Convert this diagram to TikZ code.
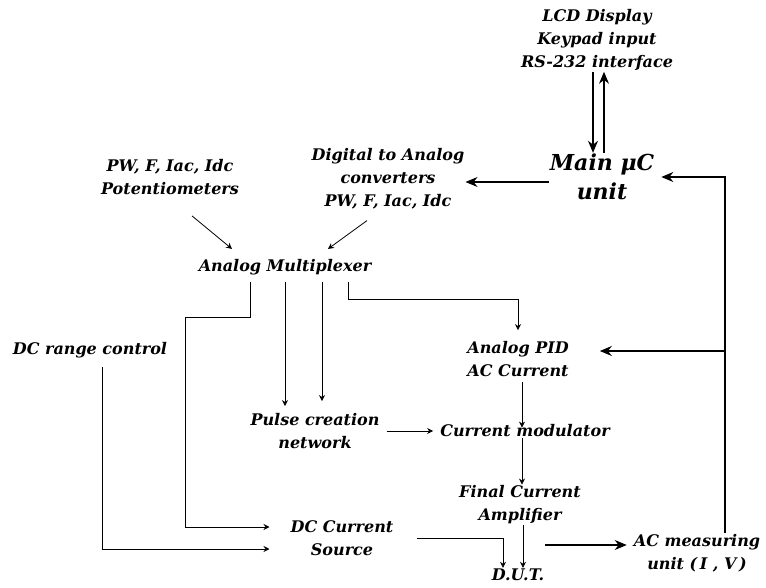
\documentclass[tikz,border=0pt]{standalone}
\usepackage{fontspec}
\setmainfont{DejaVu Serif}
\usepackage{xcolor}
\usepackage{tikz}
\usetikzlibrary{arrows.meta}

\tikzset{
  lbl/.style={font=\bfseries\itshape\fontsize{16}{23}\selectfont,align=center,inner sep=1pt},
  bigarr/.style={line width=1.1pt,-{Stealth[length=12pt,width=10pt]}},
  smallarr/.style={line width=0.8pt,-{Stealth[length=6pt,width=6pt]}}
}

\begin{document}
\begin{tikzpicture}[x=1pt,y=1pt]
    \useasboundingbox (0,0) rectangle (766,587);

    \node[lbl] (lcd) at (597,547) {LCD Display\\Keypad input\\RS-232 interface};
    \node[lbl,font=\bfseries\itshape\fontsize{22}{29}\selectfont] (main) at (602,410) {Main μC\\unit};
    \node[lbl] (pot) at (170,410) {PW, F, Iac, Idc\\Potentiometers};
    \node[lbl] (dac) at (388,408) {Digital to Analog\\converters\\PW, F, Iac, Idc};
    \node[lbl] (mux) at (285,320) {Analog Multiplexer};
    \node[lbl] (dcr) at (90,237) {DC range control};
    \node[lbl] (pid) at (518,228) {Analog PID\\AC Current};
    \node[lbl] (pulse) at (315,156) {Pulse creation\\network};
    \node[lbl] (mod) at (525,156) {Current modulator};
    \node[lbl] (amp) at (520,82) {Final Current\\Amplifier};
    \node[lbl] (dcs) at (342,49) {DC Current\\Source};
    \node[lbl] (dut) at (518,12) {D.U.T.};
    \node[lbl] (acm) at (697,34) {AC measuring\\unit (\,I , V\,)};

    \coordinate (fbx) at ([xshift=28]acm.north);
    \coordinate (pidin) at ([shift={(30,8)}]pid.east);
    \coordinate (pt) at ([yshift=6]pulse.north);
    \coordinate (dutout) at ([shift={(27,30)}]dut.center);

    % user interface and main unit
    \draw[bigarr] ([xshift=-4]lcd.south) -- ([xshift=-4]lcd.south |- main.north);
    \draw[bigarr] ([xshift=7]lcd.south |- main.north) -- ([xshift=7]lcd.south);
    \draw[bigarr] ([yshift=-5]main.west) -- ([yshift=-5]main.west -| dac.east);
    \draw[bigarr] (fbx) |- ([xshift=6]main.east);
    \draw[bigarr] (fbx |- pidin) -- (pidin);

    % multiplexer inputs and outputs
    \draw[smallarr] ([shift={(22,-20)}]pot.south) -- ([shift={(-53,9)}]mux.north);
    \draw[smallarr] ([shift={(-21,-10)}]dac.south) -- ([shift={(43,9)}]mux.north);
    \draw[smallarr] ([shift={(-35,-6)}]mux.south) |- ++(-65,-35) |- ([shift={(-20,11)}]dcs.west);
    \draw[smallarr] ([yshift=-6]mux.south) -- (pt -| mux.south);
    \draw[smallarr] ([shift={(37,-6)}]mux.south) -- ++(0,-119);
    \draw[smallarr] ([shift={(63,-6)}]mux.south) -- ++(0,-17) -| ([yshift=10]pid.north);
    \draw[smallarr] ([shift={(12,-8)}]dcr.south) |- ([shift={(-20,-11)}]dcs.west);

    % AC current chain
    \draw[smallarr] ([shift={(4,-4)}]pid.south) -- ([shift={(4,-4)}]pid.south |- mod.north);
    \draw[smallarr] ([xshift=6]pulse.east |- mod.west) -- ([xshift=-6]mod.west);
    \draw[smallarr] ([xshift=-3]mod.south) -- ([xshift=-3]mod.south |- amp.north);
    \draw[smallarr] ([xshift=3]amp.south) -- ([xshift=3]amp.south |- dut.north);
    \draw[smallarr] ([xshift=22]dcs.east) -| ([xshift=-15]dut.north);
    \draw[bigarr] (dutout) -- ([xshift=-6]dutout -| acm.west);
\end{tikzpicture}
\end{document}
